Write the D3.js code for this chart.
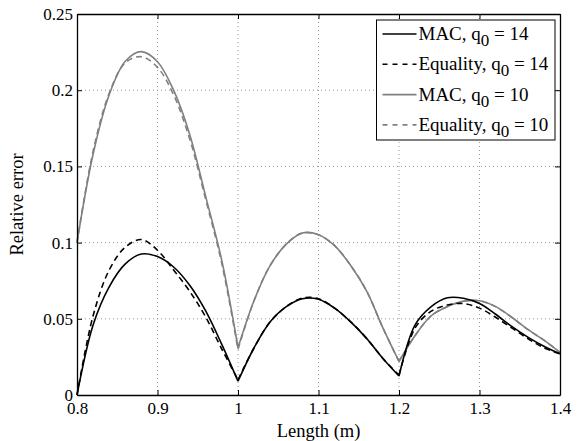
<!DOCTYPE html>
<meta charset="utf-8">
<script src="https://d3js.org/d3.v7.min.js"></script>
<style>
  body { margin: 0; background: #fff; }
  svg text { font-family: "Liberation Serif", "Times New Roman", Times, "DejaVu Serif", serif !important; }
</style>
<body>
<div id="my_dataviz"></div>
<script>

var lengths = [0.80, 0.82, 0.84, 0.86, 0.88, 0.90, 0.92, 0.94, 0.96, 0.98,
               1.00, 1.02, 1.04, 1.06, 1.08, 1.10, 1.12, 1.14, 1.16, 1.18,
               1.20, 1.22, 1.24, 1.26, 1.28, 1.30, 1.32, 1.34, 1.36, 1.38, 1.40];

var mac14 = [0, 0.046, 0.071, 0.086, 0.0925, 0.0908, 0.084, 0.072, 0.055, 0.033,
             0.009, 0.031, 0.048, 0.058, 0.0632, 0.0628, 0.057, 0.048, 0.037, 0.024,
             0.0125, 0.046, 0.058, 0.0638, 0.0635, 0.060, 0.053, 0.045, 0.038, 0.032, 0.027];

var eq14 = [0, 0.052, 0.082, 0.097, 0.102, 0.095, 0.082, 0.068, 0.051, 0.030,
            0.010, 0.031, 0.048, 0.058, 0.0636, 0.0632, 0.057, 0.048, 0.037, 0.024,
            0.013, 0.044, 0.055, 0.059, 0.060, 0.057, 0.051, 0.044, 0.037, 0.031, 0.027];

var mac10 = [0.100, 0.158, 0.197, 0.219, 0.2253, 0.2187, 0.200, 0.171, 0.130, 0.088,
             0.031, 0.062, 0.085, 0.099, 0.1063, 0.1052, 0.098, 0.085, 0.068, 0.044,
             0.022, 0.039, 0.052, 0.058, 0.0615, 0.0618, 0.058, 0.051, 0.043, 0.036, 0.028];

var eq10 = [0.100, 0.160, 0.198, 0.218, 0.222, 0.215, 0.197, 0.168, 0.128, 0.086,
            0.030, 0.062, 0.085, 0.099, 0.1063, 0.1052, 0.098, 0.085, 0.068, 0.044,
            0.022, 0.039, 0.052, 0.058, 0.0615, 0.0618, 0.058, 0.051, 0.043, 0.036, 0.028];

var xTicks = [0.8, 0.9, 1, 1.1, 1.2, 1.3, 1.4];
var yTicks = [0, 0.05, 0.1, 0.15, 0.2, 0.25];

// the curves have sharp minima at these lengths
var breaks = [1.0, 1.2];

var seriesNames = ["MAC, q", "Equality, q", "MAC, q", "Equality, q"];
var seriesQ = [14, 14, 10, 10];

var series = [
    {values: mac14, color: "#000", dash: null},
    {values: eq14, color: "#000", dash: "6,4"},
    {values: mac10, color: "#808080", dash: null},
    {values: eq10, color: "#808080", dash: "6,4"}
];

var margin = {top: 14, right: 22, bottom: 46, left: 77},
    width = 582 - margin.left - margin.right,
    height = 441 - margin.top - margin.bottom;

var svg = d3.select("#my_dataviz")
    .append("svg")
        .attr("width", 582)
        .attr("height", 441)
    .append("g")
        .attr("transform", "translate(" + margin.left + "," + margin.top + ")");

var x = d3.scaleLinear().domain([0.8, 1.4]).range([0, width]);
var y = d3.scaleLinear().domain([0, 0.25]).range([height, 0]);

// dotted grid
svg.append("g").selectAll("line")
    .data(xTicks.slice(1, -1))
    .enter().append("line")
    .attr("x1", d => x(d)).attr("x2", d => x(d))
    .attr("y1", 0).attr("y2", height)
    .attr("stroke", "#999").attr("stroke-width", 1)
    .attr("stroke-dasharray", "1,3");

svg.append("g").selectAll("line")
    .data(yTicks.slice(1, -1))
    .enter().append("line")
    .attr("y1", d => y(d)).attr("y2", d => y(d))
    .attr("x1", 0).attr("x2", width)
    .attr("stroke", "#999").attr("stroke-width", 1)
    .attr("stroke-dasharray", "1,3");

// curves: smooth inside each piece, cusp at the breaks
var line = d3.line()
    .x(d => x(d[0]))
    .y(d => y(d[1]))
    .curve(d3.curveCatmullRom.alpha(0.5));

function pathFor(values) {
    var pts = values.map((v, i) => [lengths[i], v]);
    var edges = [0.8].concat(breaks, [1.4]);
    var d = "";
    for (var k = 0; k < edges.length - 1; k++) {
        var piece = pts.filter(p => p[0] >= edges[k] - 1e-9 && p[0] <= edges[k + 1] + 1e-9);
        d += line(piece);
    }
    return d;
}

// draw grey first so the black sits on top
[2, 3, 0, 1].forEach(function(k) {
    var s = series[k];
    svg.append("path")
        .attr("fill", "none")
        .attr("stroke", s.color)
        .attr("stroke-width", 1.6)
        .attr("stroke-linejoin", "round")
        .attr("stroke-dasharray", s.dash)
        .attr("d", pathFor(s.values));
});

// axes, ticks inward, box all round
var fmt = d => d3.format("")(d);
svg.append("g")
    .attr("transform", "translate(0," + height + ")")
    .call(d3.axisBottom(x).tickValues(xTicks).tickSizeInner(-5).tickSizeOuter(0).tickPadding(7).tickFormat(fmt));
svg.append("g")
    .call(d3.axisLeft(y).tickValues(yTicks).tickSizeInner(-5).tickSizeOuter(0).tickPadding(4).tickFormat(fmt));
svg.append("g")
    .call(d3.axisTop(x).tickValues(xTicks).tickSizeInner(-5).tickSizeOuter(0).tickFormat(""));
svg.append("g")
    .attr("transform", "translate(" + width + ",0)")
    .call(d3.axisRight(y).tickValues(yTicks).tickSizeInner(-5).tickSizeOuter(0).tickFormat(""));

svg.selectAll(".domain").attr("stroke", "#000").attr("stroke-width", 1.3);
svg.selectAll(".tick line").attr("stroke", "#000");
svg.selectAll(".tick text").attr("font-size", 17).attr("fill", "#000");

// axis labels
svg.append("text")
    .attr("x", width / 2).attr("y", height + 42)
    .attr("text-anchor", "middle").attr("font-size", 18.5)
    .text("Length (m)");

svg.append("text")
    .attr("transform", "translate(" + (-54) + "," + (height / 2) + ")rotate(-90)")
    .attr("text-anchor", "middle").attr("font-size", 18.5)
    .text("Relative error");

// legend
var lx = 376.5 - margin.left, ly = 20 - margin.top, lw = 178.5, lh = 120;
var legend = svg.append("g").attr("transform", "translate(" + lx + "," + ly + ")");
legend.append("rect")
    .attr("width", lw).attr("height", lh)
    .attr("fill", "#fff").attr("stroke", "#000").attr("stroke-width", 1);

series.forEach(function(s, i) {
    var cy = 14 + i * 30.3;
    legend.append("line")
        .attr("x1", 6).attr("x2", 40).attr("y1", cy).attr("y2", cy)
        .attr("stroke", s.color).attr("stroke-width", 1.6)
        .attr("stroke-dasharray", s.dash ? "5,5" : null);
    var t = legend.append("text")
        .attr("x", 42).attr("y", cy + 6)
        .attr("font-size", 19);
    t.append("tspan").text(seriesNames[i]);
    t.append("tspan").attr("dy", 6).attr("font-size", 17).text("0");
    t.append("tspan").attr("dy", -6).text(" = " + seriesQ[i]);
});

</script>
</body>
